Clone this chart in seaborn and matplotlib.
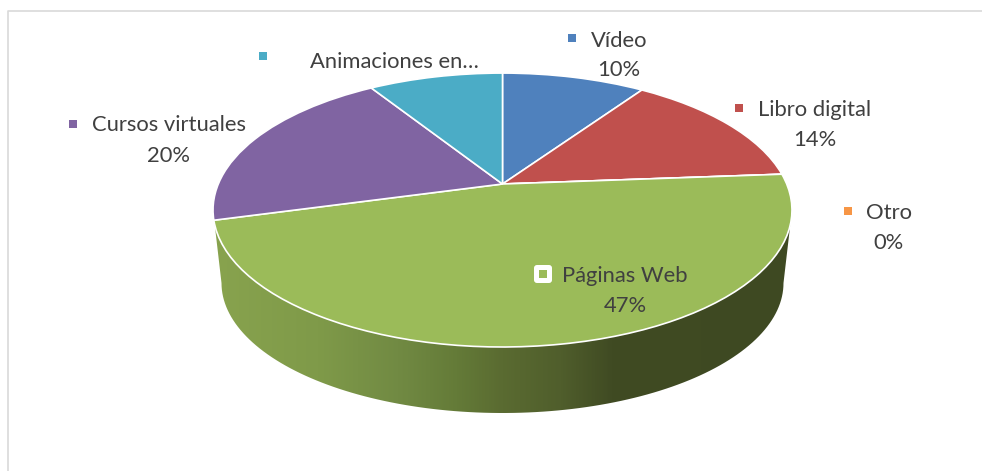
import numpy as np
import matplotlib
matplotlib.use("Agg")
import matplotlib.pyplot as plt
import matplotlib.transforms as mtransforms
from matplotlib.colors import LinearSegmentedColormap
from matplotlib.patches import FancyBboxPatch, PathPatch
from matplotlib.path import Path
import seaborn as sns

# datos
categorias = ["Vídeo", "Libro digital", "Otro", "Páginas Web", "Cursos virtuales", "Animaciones en…"]
valores = [9.6, 14.2, 0.0, 47.0, 20.2, 9.0]
porcentajes = ["10%", "14%", "0%", "47%", "20%", None]

colores = sns.color_palette(["#4f81bd", "#c0504d", "#f79646", "#9bbb59", "#8064a2", "#4bacc6"])

# posicion de cada etiqueta en pixeles: texto x, nombre y, porcentaje y, marcador x, marcador y
pos_etiquetas = [
    (619, 41, 70, 572, 38),
    (815, 110, 140, 739, 108),
    (889, 213, 243, 848, 211),
    (625, 276, 306, 543, 274),
    (169, 125, 156, 73, 124),
    (394, 62, None, 263, 56),
]


class Perspectiva(mtransforms.Transform):
    # lleva el circulo unidad del pie al plano inclinado, en pixeles
    input_dims = 2
    output_dims = 2

    def __init__(self, cx=502.5, cy=184, a=284.2, b=132, k=0.19):
        super().__init__()
        self.cx, self.cy, self.a, self.b, self.k = cx, cy, a, b, k

    def transform_non_affine(self, values):
        u, v = values[:, 0], values[:, 1]
        d = 1 + self.k * v
        return np.column_stack([self.cx + self.a * u / d, self.cy - self.b * v / d])


sns.set_theme(style="white")
plt.rcParams["font.family"] = ["Lato", "DejaVu Sans"]

fig = plt.figure(figsize=(9.82, 4.71), dpi=100)
ax = fig.add_axes([0, 0, 1, 1])

wedges, _ = ax.pie(
    valores,
    colors=colores,
    startangle=90,
    counterclock=False,
    wedgeprops={"edgecolor": "white", "linewidth": 1.2},
)
ax.set_aspect("auto")
persp = Perspectiva()
for w in wedges:
    w.set_transform(persp + ax.transData)
    w.set_zorder(3)

# pared lateral con degradado, solo se ve la parte de Paginas Web
grad = LinearSegmentedColormap.from_list(
    "pared",
    [
        (0.0, "#88a34e"),
        (0.18, "#7f9a49"),
        (0.32, "#718a43"),
        (0.42, "#647b38"),
        (0.50, "#5a6b31"),
        (0.60, "#505e2c"),
        (0.69, "#404b23"),
        (1.0, "#3e4922"),
    ],
)
t = np.linspace(np.pi, 2 * np.pi, 120)
borde_x = 502.5 + 281 * np.cos(t)
borde_y = 283 - 130 * np.sin(t)
contorno = np.column_stack([
    np.r_[213, borde_x, 792, 213],
    np.r_[210, borde_y, 210, 210],
])
im = ax.imshow(
    np.linspace(0, 1, 400).reshape(1, -1),
    extent=(213, 792, 420, 170),
    cmap=grad,
    aspect="auto",
    zorder=2,
)
clip = PathPatch(Path(contorno), transform=ax.transData, facecolor="none", edgecolor="none")
ax.add_patch(clip)
im.set_clip_path(clip)

# marco gris del grafico
ax.plot([8, 8, 982], [471, 11, 11], color="#d9d9d9", lw=1.2, zorder=1)

# etiquetas
for i, nombre in enumerate(categorias):
    x, y1, y2, mx, my = pos_etiquetas[i]
    ax.text(x, y1, nombre, ha="center", va="center", fontsize=15.8, color="#404040", zorder=6)
    if porcentajes[i] is not None:
        ax.text(x, y2, porcentajes[i], ha="center", va="center", fontsize=15.8, color="#404040", zorder=6)
    if nombre == "Páginas Web":
        ax.add_patch(FancyBboxPatch((mx - 6.5, my - 6.5), 13, 13, boxstyle="round,pad=2.5,rounding_size=3",
                                    facecolor="white", edgecolor="none", zorder=5))
    ax.scatter([mx], [my], marker="s", s=33, color=colores[i], linewidths=0, zorder=6)

ax.set_xlim(0, 982)
ax.set_ylim(471, 0)
ax.axis("off")

fig.savefig("out.png", dpi=100, facecolor="white")
